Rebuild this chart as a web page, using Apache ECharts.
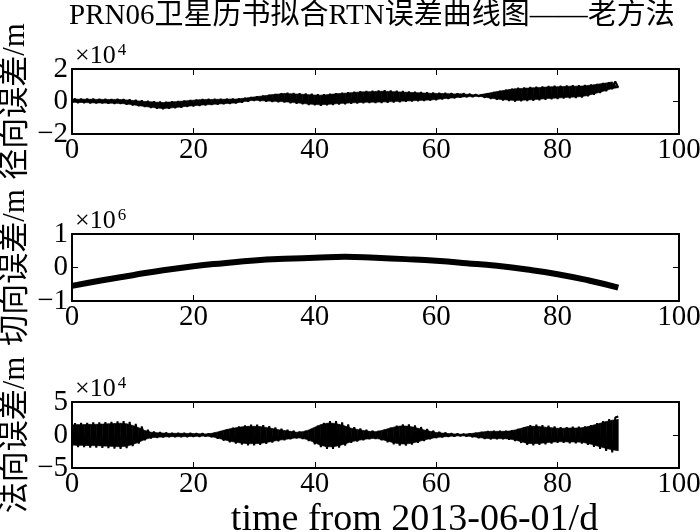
<!DOCTYPE html>
<html>
<head>
<meta charset="utf-8">
<script src="https://cdn.jsdelivr.net/npm/echarts@6/dist/echarts.min.js"></script>
<style>
html, body { margin: 0; padding: 0; background: #fff; }
#chart { width: 700px; height: 532px; }
</style>
</head>
<body>
<div id="chart"></div>
<script>
const FONT = '"Liberation Serif", "Noto Sans CJK SC", serif';

// radial error (x1e4 m): centre and half width of the band, one value per day
const radialCenter = [
  0.05, 0.04, 0.04, 0.03, 0.02, 0.02, 0.01, 0.01, 0.0, -0.03,
  -0.07, -0.11, -0.15, -0.19, -0.22, -0.25, -0.22, -0.19, -0.16, -0.12,
  -0.09, -0.06, -0.04, -0.03, -0.01, 0.0, 0.02, 0.03, 0.08, 0.13,
  0.18, 0.19, 0.2, 0.22, 0.23, 0.24, 0.21, 0.19, 0.16, 0.13,
  0.11, 0.09, 0.12, 0.15, 0.18, 0.2, 0.23, 0.25, 0.27, 0.28,
  0.29, 0.3, 0.3, 0.3, 0.3, 0.3, 0.3, 0.3, 0.3, 0.3,
  0.31, 0.33, 0.34, 0.35, 0.37, 0.37, 0.36, 0.36, 0.37, 0.37,
  0.38, 0.39, 0.41, 0.42, 0.44, 0.46, 0.48, 0.5, 0.53, 0.55,
  0.56, 0.58, 0.6, 0.61, 0.63, 0.68, 0.75, 0.83, 0.91, 1.0,
  0.85
];
const radialHalf = [
  0.12, 0.12, 0.12, 0.13, 0.13, 0.13, 0.13, 0.14, 0.14, 0.15,
  0.16, 0.17, 0.18, 0.2, 0.21, 0.22, 0.22, 0.21, 0.21, 0.2,
  0.2, 0.2, 0.19, 0.18, 0.17, 0.16, 0.15, 0.14, 0.13, 0.12,
  0.12, 0.16, 0.2, 0.24, 0.27, 0.3, 0.31, 0.32, 0.33, 0.34,
  0.34, 0.35, 0.35, 0.36, 0.36, 0.37, 0.37, 0.38, 0.38, 0.38,
  0.39, 0.39, 0.38, 0.36, 0.34, 0.32, 0.3, 0.28, 0.26, 0.24,
  0.22, 0.19, 0.17, 0.14, 0.12, 0.09, 0.07, 0.05, 0.12, 0.2,
  0.27, 0.33, 0.38, 0.43, 0.43, 0.43, 0.43, 0.42, 0.42, 0.42,
  0.41, 0.4, 0.4, 0.39, 0.38, 0.36, 0.33, 0.3, 0.27, 0.24,
  0.0
];

// along-track error (x1e6 m), every 5 days
const alongDays = [0, 5, 10, 15, 20, 25, 30, 35, 40, 45, 50, 55, 60, 65, 70, 75, 80, 85, 90];
const alongValues = [-0.55, -0.38, -0.23, -0.08, 0.04, 0.13, 0.21, 0.26, 0.29, 0.32, 0.29, 0.25, 0.2, 0.13, 0.05, -0.06, -0.2, -0.38, -0.6];

// normal error (x1e4 m): half width of the band around zero, one value per day
const normalHalf = [
  1.8, 1.85, 1.85, 1.9, 1.9, 1.95, 2.0, 2.05, 2.1, 2.0,
  1.7, 1.3, 0.8, 0.5, 0.4, 0.35, 0.3, 0.3, 0.3, 0.28,
  0.25, 0.22, 0.2, 0.3, 0.55, 0.85, 1.1, 1.3, 1.45, 1.55,
  1.55, 1.5, 1.35, 1.15, 0.95, 0.8, 0.65, 0.5, 0.6, 0.9,
  1.4, 1.85, 2.1, 2.1, 1.9, 1.6, 1.2, 1.0, 0.8, 0.65,
  0.6, 0.8, 1.1, 1.4, 1.6, 1.6, 1.45, 1.2, 0.9, 0.65,
  0.45, 0.35, 0.25, 0.2, 0.15, 0.2, 0.3, 0.45, 0.6, 0.65,
  0.65, 0.65, 0.7, 0.9, 1.2, 1.5, 1.55, 1.5, 1.4, 1.3,
  1.2, 1.2, 1.25, 1.25, 1.3, 1.5, 1.8, 2.1, 2.4, 2.65,
  2.8
];

const yLabels = ['径向误差/m', '切向误差/m', '法向误差/m'];
const yExponents = ['4', '6', '4'];
const yScales = [1e4, 1e6, 1e4];
const yLimits = [2, 1, 5];

const grids = [
  { left: 72, top: 69, width: 607, height: 65, outerBoundsMode: 'none', containLabel: false },
  { left: 72, top: 234, width: 607, height: 67, outerBoundsMode: 'none', containLabel: false },
  { left: 72, top: 402, width: 607, height: 66, outerBoundsMode: 'none', containLabel: false }
];

// zigzag: low at day i, high at day i + 0.5
function zigzag(center, half, scale) {
  const pts = [];
  for (let i = 0; i < half.length - 1; i++) {
    pts.push([i, (center(i) - half[i]) * scale]);
    pts.push([i + 0.5, (center(i) + half[i]) * scale]);
  }
  const last = half.length - 1;
  pts.push([last, (center(last) + half[last]) * scale]);
  return pts;
}

// solid inner part of the band: rows [day, low, high]
const FILL = 0.85;
function bandRows(center, half, scale) {
  return half.map((h, i) => [i, (center(i) - h * FILL) * scale, (center(i) + h * FILL) * scale]);
}

function bandSeries(rows, axisIdx) {
  return {
    type: 'custom', xAxisIndex: axisIdx, yAxisIndex: axisIdx, silent: true,
    clip: true,
    encode: { x: 0, y: [1, 2] },
    data: rows.slice(0, rows.length - 1),
    renderItem: (params, api) => {
      const i = params.dataIndex;
      const a = rows[i], b = rows[i + 1];
      return {
        type: 'polygon',
        shape: { points: [api.coord([a[0], a[1]]), api.coord([b[0], b[1]]), api.coord([b[0], b[2]]), api.coord([a[0], a[2]])] },
        style: { fill: '#000', stroke: '#000', lineWidth: 0.6 }
      };
    }
  };
}

const rC = i => radialCenter[i];
const nC = i => 0;

const fmt = v => String(v).replace('-', '\u2212');

const tickStyle = { show: true, inside: true, length: 6, lineStyle: { color: '#000', width: 1 } };
const boxLine = { show: true, onZero: false, lineStyle: { color: '#000', width: 2 } };

const xAxes = [];
const yAxes = [];
grids.forEach((g, k) => {
  xAxes.push({
    gridIndex: k, type: 'value', min: 0, max: 100, interval: 20,
    axisLine: boxLine, axisTick: tickStyle,
    axisLabel: { show: true, color: '#000', fontFamily: FONT, fontSize: 29, margin: 2 },
    splitLine: { show: false },
    name: k === 2 ? 'time from 2013-06-01/d' : '',
    nameLocation: 'middle', nameGap: 33, nameMoveOverlap: false,
    nameTextStyle: { color: '#000', fontFamily: FONT, fontSize: 38, padding: [0, 0, 0, 78] }
  });
  xAxes.push({
    gridIndex: k, type: 'value', min: 0, max: 100, interval: 20, position: 'top',
    axisLine: boxLine, axisTick: tickStyle,
    axisLabel: { show: false }, splitLine: { show: false }
  });
  const lim = yLimits[k] * yScales[k];
  yAxes.push({
    gridIndex: k, type: 'value', min: -lim, max: lim, interval: lim,
    axisLine: boxLine, axisTick: tickStyle,
    axisLabel: {
      show: true, color: '#000', fontFamily: FONT, fontSize: 29, margin: 4,
      formatter: v => fmt(Math.round(v / yScales[k]))
    },
    splitLine: { show: false },
    name: yLabels[k], nameLocation: 'middle', nameRotate: 90, nameGap: 41, nameMoveOverlap: false,
    nameTextStyle: { color: '#000', fontFamily: FONT, fontSize: 31 }
  });
  yAxes.push({
    gridIndex: k, type: 'value', min: -lim, max: lim, interval: lim, position: 'right',
    axisLine: boxLine, axisTick: tickStyle,
    axisLabel: { show: false }, splitLine: { show: false }
  });
});

const lineBase = { type: 'line', showSymbol: false, symbol: 'none', silent: true, animation: false };

const series = [
  bandSeries(bandRows(rC, radialHalf, 1e4), 0),
  Object.assign({}, lineBase, { xAxisIndex: 0, yAxisIndex: 0,
    data: zigzag(rC, radialHalf, 1e4), lineStyle: { color: '#000', width: 2 } }),
  Object.assign({}, lineBase, { xAxisIndex: 2, yAxisIndex: 2, smooth: true,
    data: alongDays.map((d, i) => [d, alongValues[i] * 1e6]),
    lineStyle: { color: '#000', width: 6 } }),
  bandSeries(bandRows(nC, normalHalf, 1e4), 4),
  Object.assign({}, lineBase, { xAxisIndex: 4, yAxisIndex: 4,
    data: zigzag(nC, normalHalf, 1e4), lineStyle: { color: '#000', width: 2 } })
];

const expTitles = grids.map((g, k) => ({
  text: '{a|×10}{b|' + yExponents[k] + '}',
  left: 70, top: g.top - 32,
  textStyle: {
    rich: {
      a: { fontFamily: FONT, fontSize: 26, fontWeight: 'normal', color: '#000' },
      b: { fontFamily: FONT, fontSize: 17, fontWeight: 'normal', color: '#000', verticalAlign: 'top', padding: [0, 0, 12, 2] }
    }
  }
}));

const chart = echarts.init(document.getElementById('chart'), null, { renderer: 'canvas' });
chart.setOption({
  animation: false,
  backgroundColor: '#fff',
  title: [{
    text: 'PRN06卫星历书拟合RTN误差曲线图——老方法',
    left: 64, top: -3,
    textStyle: { fontFamily: FONT, fontSize: 29, fontWeight: 'normal', color: '#000' }
  }].concat(expTitles),
  grid: grids,
  xAxis: xAxes,
  yAxis: yAxes,
  series: series
});
</script>
</body>
</html>
